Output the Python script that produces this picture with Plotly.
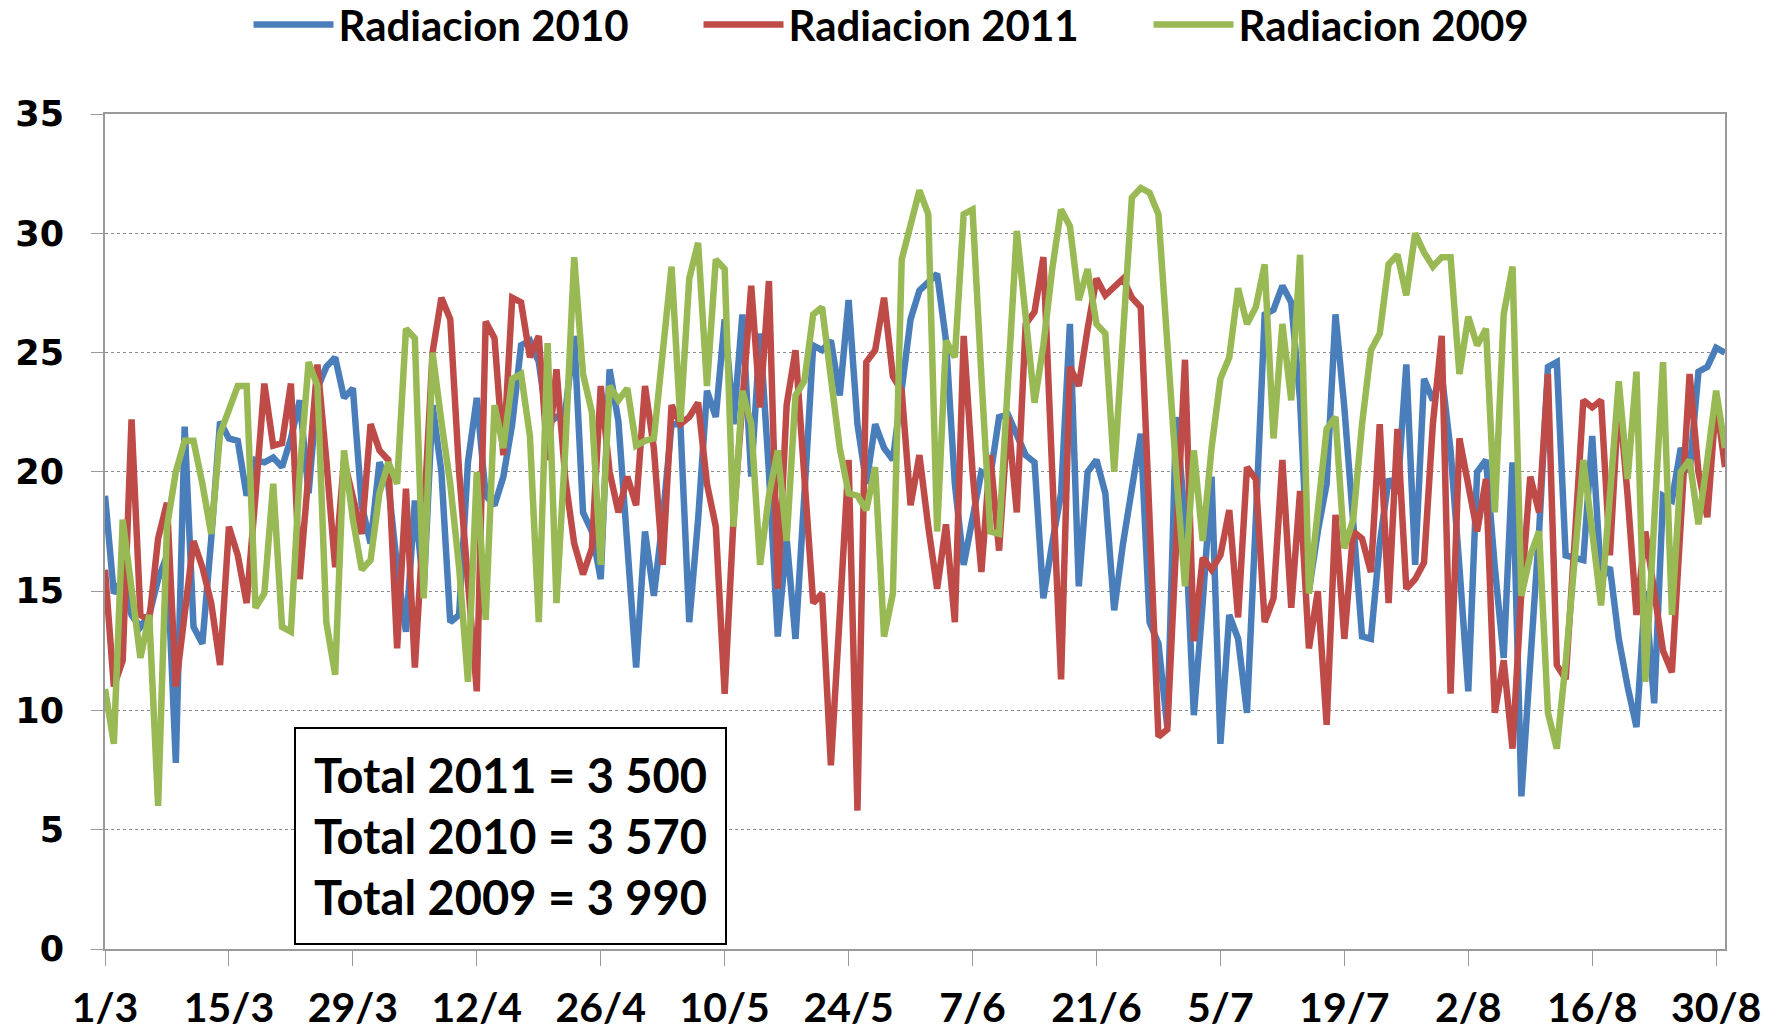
import pandas as pd
import plotly.graph_objects as go

# daily radiation, 1 March .. 31 August
start_date = "2011-03-01"

rad_2010 = [
    19.0, 14.9, 15.5, 14.0, 13.5, 14.0, 15.5, 16.5, 7.8, 21.9,
    13.5, 12.8, 17.2, 22.1, 21.4, 21.3, 19.0, 20.5, 20.4, 20.6,
    20.2, 21.4, 23.0, 19.1, 23.5, 24.4, 24.8, 23.1, 23.5, 18.6,
    17.0, 20.4, 19.5, 16.0, 13.3, 18.8, 15.0, 22.8, 20.0, 13.7,
    14.0, 20.4, 23.1, 19.0, 18.6, 19.8, 22.0, 25.3, 25.5, 24.6,
    22.0, 22.3, 22.5, 25.7, 18.3, 17.5, 15.5, 24.3, 22.1, 17.0,
    11.8, 17.5, 14.8, 18.0, 22.0, 22.0, 13.7, 18.0, 23.4, 22.3,
    26.4, 22.0, 26.6, 19.8, 25.8, 20.0, 13.1, 17.2, 13.0, 19.0,
    25.3, 25.1, 25.5, 23.2, 27.2, 22.0, 19.5, 22.0, 21.0, 20.5,
    23.6, 26.4, 27.6, 28.0, 28.3, 25.5, 19.5, 16.1, 18.0, 20.0,
    19.8, 22.3, 22.4, 21.5, 20.7, 20.4, 14.7, 17.0, 19.1, 26.2,
    15.2, 20.0, 20.5, 19.1, 14.2, 17.0, 19.5, 21.6, 13.7, 12.8,
    9.3, 22.3, 18.0, 9.8, 14.5, 19.8, 8.6, 14.0, 13.0, 9.9,
    18.0, 26.6, 26.8, 27.8, 27.1, 23.0, 15.0, 17.5, 19.5, 26.6,
    22.7, 18.0, 13.1, 13.0, 17.0, 19.7, 19.1, 24.5, 16.1, 23.9,
    23.0, 24.1, 20.9, 16.0, 10.8, 20.0, 20.5, 16.0, 12.2, 20.4,
    6.4, 12.0, 17.5, 24.4, 24.6, 16.5, 16.4, 16.3, 21.5, 15.5,
    16.0, 13.0, 11.0, 9.3, 15.0, 10.3, 19.0, 18.8, 21.0, 20.0,
    24.2, 24.4, 25.2, 25.0,
]

rad_2011 = [
    15.9, 11.0, 12.1, 22.2, 14.0, 13.8, 17.2, 18.7, 11.0, 14.0,
    17.1, 16.0, 14.5, 11.9, 17.7, 16.5, 14.5, 19.0, 23.7, 21.1,
    21.2, 23.7, 15.5, 20.0, 24.5, 20.5, 16.0, 20.5, 19.0, 17.4,
    22.0, 20.9, 20.5, 12.6, 19.3, 11.8, 18.0, 25.0, 27.3, 26.4,
    20.0, 15.0, 10.8, 26.3, 25.6, 20.7, 27.3, 27.1, 24.8, 25.7,
    20.5, 24.3, 19.7, 17.0, 15.7, 16.8, 23.6, 20.0, 18.3, 19.8,
    18.6, 23.6, 21.0, 16.1, 22.8, 22.0, 22.3, 22.9, 19.5, 17.7,
    10.7, 18.0, 23.0, 27.8, 22.7, 28.0, 15.1, 22.8, 25.1, 20.0,
    14.5, 14.9, 7.7, 14.0, 20.5, 5.8, 24.6, 25.1, 27.3, 24.0,
    23.4, 18.6, 20.7, 17.7, 15.1, 17.8, 13.7, 25.7, 20.0, 15.8,
    20.7, 16.7, 22.3, 18.3, 26.2, 26.7, 29.0, 20.0, 11.3, 24.4,
    23.6, 26.0, 28.1, 27.4, 27.8, 28.1, 27.3, 26.9, 18.0, 8.9,
    9.2, 17.0, 24.7, 12.9, 16.4, 15.9, 16.5, 18.4, 13.9, 20.2,
    19.7, 13.7, 14.7, 20.5, 14.3, 19.2, 12.6, 15.0, 9.4, 18.2,
    13.0, 17.5, 17.2, 15.8, 22.0, 14.5, 21.8, 15.1, 15.5, 16.2,
    22.0, 25.7, 10.7, 21.4, 19.5, 17.5, 19.7, 9.9, 12.1, 8.4,
    15.0, 19.8, 18.3, 24.1, 11.9, 11.3, 17.0, 23.0, 22.7, 23.0,
    16.5, 23.2, 19.0, 14.0, 17.5, 15.0, 12.5, 11.6, 18.0, 24.1,
    20.0, 18.1, 23.0, 20.2,
]

rad_2009 = [
    10.9, 8.6, 18.0, 15.0, 12.2, 14.0, 6.0, 17.7, 20.0, 21.3,
    21.3, 19.5, 17.4, 21.6, 22.6, 23.6, 23.6, 14.3, 14.9, 19.5,
    13.5, 13.3, 20.0, 24.6, 23.6, 13.7, 11.5, 20.9, 18.0, 15.9,
    16.3, 19.1, 20.4, 19.5, 26.0, 25.6, 14.7, 25.0, 22.1, 19.5,
    16.0, 11.2, 20.0, 13.8, 22.8, 21.0, 23.9, 24.1, 21.5, 13.7,
    25.4, 14.5, 21.0, 29.0, 24.1, 22.5, 16.1, 23.6, 23.0, 23.5,
    21.1, 21.3, 21.4, 25.0, 28.6, 22.1, 28.1, 29.6, 23.6, 28.9,
    28.5, 17.7, 23.4, 22.0, 16.1, 19.0, 20.9, 17.1, 23.2, 23.8,
    26.6, 26.9, 24.0, 21.0, 19.1, 19.0, 18.4, 20.2, 13.1, 14.9,
    28.9, 30.3, 31.8, 30.8, 17.5, 25.5, 24.8, 30.8, 31.0, 24.0,
    17.5, 17.4, 24.0, 30.1, 26.5, 22.9, 25.3, 28.5, 31.0, 30.3,
    27.2, 28.5, 26.2, 25.8, 20.0, 26.0, 31.5, 31.9, 31.7, 30.8,
    25.0, 20.0, 15.2, 20.9, 17.1, 21.0, 23.9, 24.8, 27.7, 26.2,
    26.9, 28.7, 21.4, 26.2, 23.0, 29.1, 14.9, 18.5, 21.8, 22.3,
    16.8, 18.0, 22.0, 25.1, 25.8, 28.7, 29.1, 27.4, 30.0, 29.2,
    28.6, 29.0, 29.0, 24.1, 26.5, 25.3, 26.0, 18.3, 26.6, 28.6,
    14.8, 16.5, 17.5, 9.9, 8.4, 12.0, 16.0, 20.5, 17.5, 14.4,
    19.0, 23.8, 19.7, 24.2, 11.2, 18.0, 24.6, 14.0, 20.0, 20.5,
    17.8, 20.5, 23.4, 21.0,
]

series_names = ["Radiacion 2010", "Radiacion 2011", "Radiacion 2009"]
series_colors = ["#4A7EBB", "#BE4B48", "#98B954"]

tick_labels = ["1/3", "15/3", "29/3", "12/4", "26/4", "10/5", "24/5",
               "7/6", "21/6", "5/7", "19/7", "2/8", "16/8", "30/8"]

totals_text = ["Total 2011 = 3 500", "Total 2010 = 3 570", "Total 2009 = 3 990"]


fig = go.Figure()

for name, values, color in zip(series_names, [rad_2010, rad_2011, rad_2009], series_colors):
    days = pd.date_range(start_date, periods=len(values), freq="D")
    fig.add_trace(
        go.Scatter(
            x=days,
            y=values,
            mode="lines",
            name=name,
            line=dict(color=color, width=6.5),
        )
    )

tick_dates = pd.date_range(start_date, periods=len(tick_labels), freq="14D")

fig.update_layout(
    width=1776,
    height=1033,
    paper_bgcolor="white",
    plot_bgcolor="white",
    margin=dict(l=105, r=51, t=114, b=84, autoexpand=False),
    showlegend=True,
    legend=dict(
        orientation="h",
        xref="container",
        yref="paper",
        x=0.52,
        xanchor="center",
        y=1.107,
        yanchor="middle",
        font=dict(family="Lato", size=42, color="black", weight="bold"),
        itemwidth=80,
        entrywidth=355,
    ),
    annotations=[
        dict(
            text="<br>".join(totals_text),
            xref="paper",
            yref="paper",
            x=0.2505,
            y=0.135,
            xanchor="center",
            yanchor="middle",
            align="left",
            showarrow=False,
            font=dict(family="Lato", size=47, color="black", weight="bold"),
            bgcolor="white",
            bordercolor="black",
            borderwidth=2,
            borderpad=18,
        )
    ],
)

fig.update_xaxes(
    range=[start_date, "2011-08-31"],
    tickvals=tick_dates,
    ticktext=tick_labels,
    ticks="outside",
    ticklen=15,
    tickcolor="#9a9a9a",
    ticklabelstandoff=7,
    tickfont=dict(family="Lato", size=41, color="black", weight="bold"),
    showgrid=False,
    showline=True,
    linecolor="#9a9a9a",
    linewidth=2,
    mirror=True,
    zeroline=False,
    automargin=False,
)

fig.update_yaxes(
    range=[0, 35],
    dtick=5,
    ticks="outside",
    ticklen=12,
    tickcolor="#9a9a9a",
    ticklabelstandoff=20,
    tickfont=dict(family="DejaVu Sans", size=35, color="black", weight="bold"),
    showgrid=True,
    gridcolor="#8c8c8c",
    griddash="dot",
    gridwidth=1,
    showline=True,
    linecolor="#9a9a9a",
    linewidth=2,
    mirror=True,
    zeroline=False,
    automargin=False,
)

# the page body has a default 8px margin; drop it so the figure fills the window
fig.write_html(
    "out.html",
    config={"displayModeBar": False},
    post_script="document.body.style.margin = '0';",
)
